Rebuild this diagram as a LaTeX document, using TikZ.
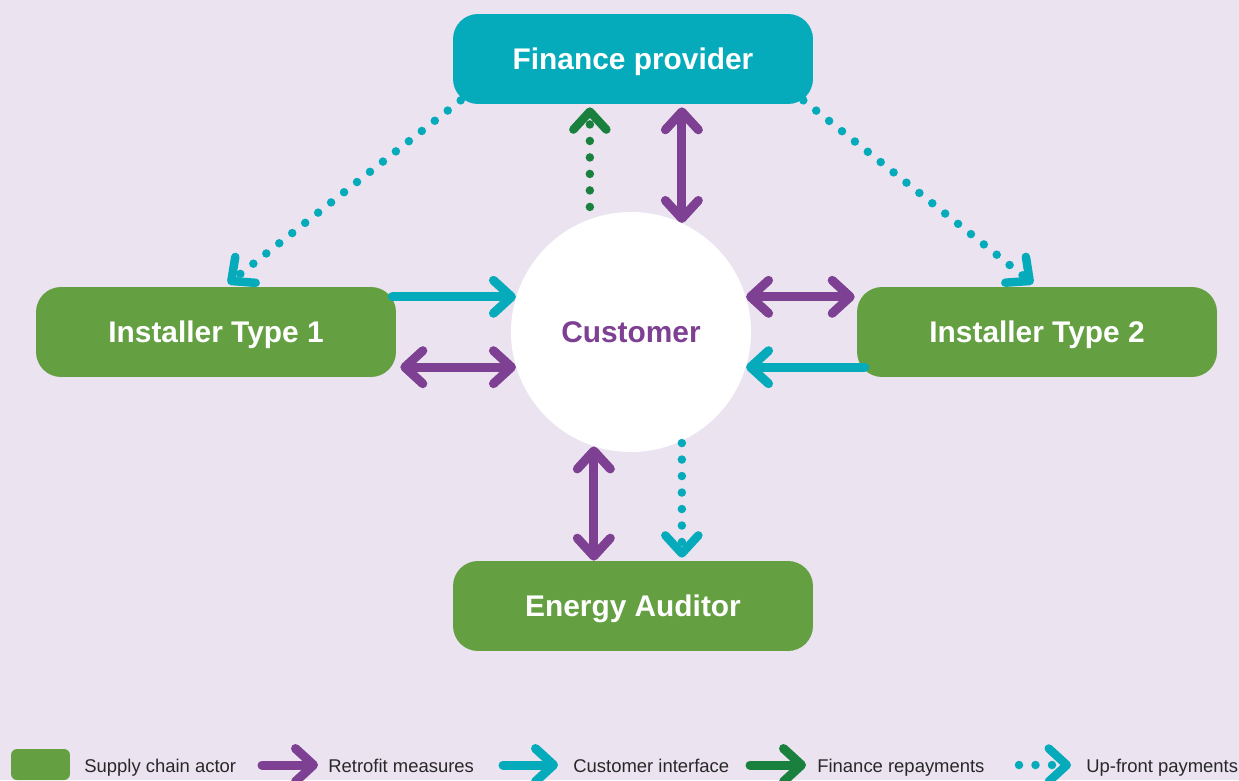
\documentclass[tikz,border=0pt]{standalone}
\usepackage{fontspec}
\setmainfont{Liberation Sans}
\usetikzlibrary{arrows.meta,calc}
\definecolor{bg}{RGB}{235,228,240}
\definecolor{fteal}{RGB}{5,171,186}
\definecolor{agreen}{RGB}{100,160,66}
\definecolor{rpurple}{RGB}{125,64,146}
\definecolor{dgreen}{RGB}{26,128,62}
\definecolor{legtext}{RGB}{40,40,40}

\begin{document}
\begin{tikzpicture}[x=0.02cm,y=-0.02cm,
  >={Straight Barb[length=0.36cm,width=0.66cm,round]},
  box/.style={rounded corners=0.5cm, minimum width=7.2cm, minimum height=1.8cm,
    inner sep=0pt, text height=12.2pt, text depth=0pt, text=white,
    font=\fontsize{17}{20}\selectfont\bfseries},
  actor/.style={box, fill=agreen},
  funder/.style={box, fill=fteal},
  hub/.style={circle, fill=white, minimum size=4.8cm, inner sep=0pt,
    text height=12.2pt, text depth=0pt, text=rpurple,
    font=\fontsize{17}{20}\selectfont\bfseries},
  link/.style={line width=0.18cm, line cap=round},
  dots/.style={line width=0.17cm, line cap=round, dash pattern=on 0pt off 0.33cm},
  retrofit/.style={link, draw=rpurple, <->},
  retrofitkey/.style={link, draw=rpurple, ->},
  interface/.style={link, draw=fteal, ->},
  repaykey/.style={link, draw=dgreen, ->},
  repay/.style={dots, draw=dgreen, ->},
  upfront/.style={dots, draw=fteal, ->},
  keytext/.style={anchor=base west, inner sep=0pt, text=legtext,
    font=\fontsize{10.5}{12}\selectfont},
]
% canvas
\fill[bg] (0,0) rectangle (1239,780);
\useasboundingbox (0,0) rectangle (1239,780);

% actors
\node[funder] (fin) at (633,59) {Finance provider};
\node[actor] (inst1) at (216,332) {Installer Type 1};
\node[actor] (inst2) at (1037,332) {Installer Type 2};
\node[actor] (aud) at (633,606) {Energy Auditor};
\node[hub] (cust) at (631,332) {Customer};

% finance flows
\draw[upfront] ($(fin.south west)+(8,-4)$) -- ($(inst1.north)+(12,-3)$);
\draw[upfront] ($(fin.south east)+(-10,-4)$) -- ($(inst2.north)+(-4,-3)$);
\draw[repay] ($(cust.110)+(0,-12)$) -- ($(cust.110 |- fin.south)+(0,3)$);
\draw[retrofit] ($(cust.65 |- fin.south)+(0,3)$) -- (cust.65);

% installer links
\draw[interface] ($(inst1.east |- cust.163)+(-4,0)$) -- (cust.163);
\draw[retrofit] ($(inst1.east |- cust.197)+(4,0)$) -- (cust.197);
\draw[retrofit] (cust.17) -- ($(inst2.west |- cust.17)+(-2,0)$);
\draw[interface] ($(inst2.west |- cust.343)+(8,0)$) -- (cust.343);

% auditor links
\draw[retrofit] (cust.252) -- (cust.252 |- aud.north);
\draw[upfront] ($(cust.295)+(0,2)$) -- ($(cust.295 |- aud.north)+(0,-3)$);

% key
\node[fill=agreen, rounded corners=0.12cm, minimum width=1.18cm,
  minimum height=0.62cm, inner sep=0pt] (keyactor) at (40.5,764.5) {};
\node[keytext] (keyactortext) at (84,772) {Supply chain actor};

\coordinate (k1a) at (262,765); \coordinate (k1b) at (318,765);
\draw[retrofitkey] (k1a) -- (k1b);
\node[keytext] (k1text) at (328,772) {Retrofit measures};

\coordinate (k2a) at (503,765); \coordinate (k2b) at (558,765);
\draw[interface] (k2a) -- (k2b);
\node[keytext] (k2text) at (573,772) {Customer interface};

\coordinate (k3a) at (750,765); \coordinate (k3b) at (806,765);
\draw[repaykey] (k3a) -- (k3b);
\node[keytext] (k3text) at (817,772) {Finance repayments};

\coordinate (k4a) at (1019,765); \coordinate (k4b) at (1071,765);
\draw[upfront] (k4a) -- (k4b);
\node[keytext] (k4text) at (1086,772) {Up-front payments};
\end{tikzpicture}
\end{document}
